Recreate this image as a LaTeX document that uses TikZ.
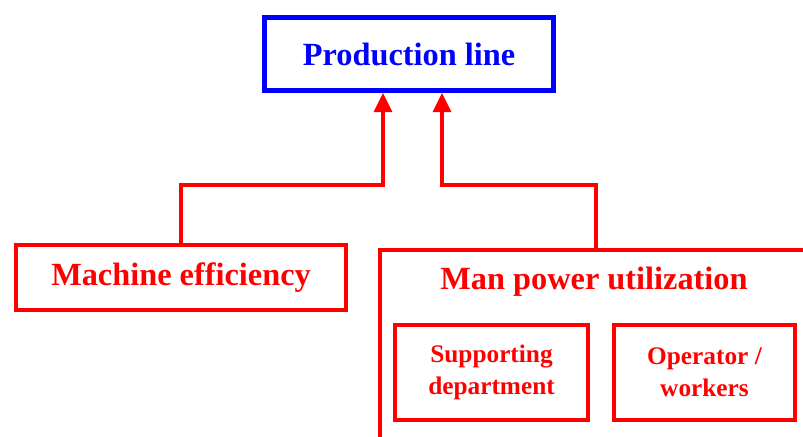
\documentclass[tikz,border=0pt]{standalone}
\usepackage{fontspec}
\setmainfont{Liberation Serif}
\usepackage{tikz}
\usetikzlibrary{positioning, arrows.meta}

\begin{document}
\begin{tikzpicture}[
    x=0.25mm, y=-0.25mm,
    font=\bfseries\fontsize{23}{28}\selectfont,
    bluebox/.style={draw=blue, text=blue, line width=3.5pt, align=center},
    redbox/.style={draw=red, text=red, line width=2.8pt, align=center},
    smallbox/.style={redbox, font=\bfseries\fontsize{18}{22.5}\selectfont,
      minimum height=23.75mm},
    conn/.style={draw=red, line width=2.3pt},
  ]
  \clip (0,0) rectangle (803,436);

  \node[bluebox, minimum width=72.25mm, minimum height=18.25mm] (prod) at (409,54) {Production line};
  \node[redbox, minimum width=82.5mm, minimum height=16.25mm] (machine) at (181,277.5) {Machine efficiency};
  \node[redbox, anchor=north west, minimum width=108mm, minimum height=50.5mm] (manbox) at (378,248) {};
  \node[text=red] (mantitle) at (594,282) {Man power utilization};
  \node[smallbox, minimum width=48.25mm] (support) at (491.5,372.5) {Supporting\\department};
  \node[smallbox, minimum width=45.25mm] (operator) at (704.5,372.5) {Operator /\\workers};

  \coordinate (jl) at (383,185);
  \coordinate (jr) at (442,185);
  \draw[conn, -{Triangle[width=4.5mm, length=4.8mm]}]
    (machine.north) |- (jl) -- (jl |- prod.south);
  \draw[conn, -{Triangle[width=4.5mm, length=4.8mm]}]
    (manbox.north) |- (jr) -- (jr |- prod.south);
\end{tikzpicture}
\end{document}
